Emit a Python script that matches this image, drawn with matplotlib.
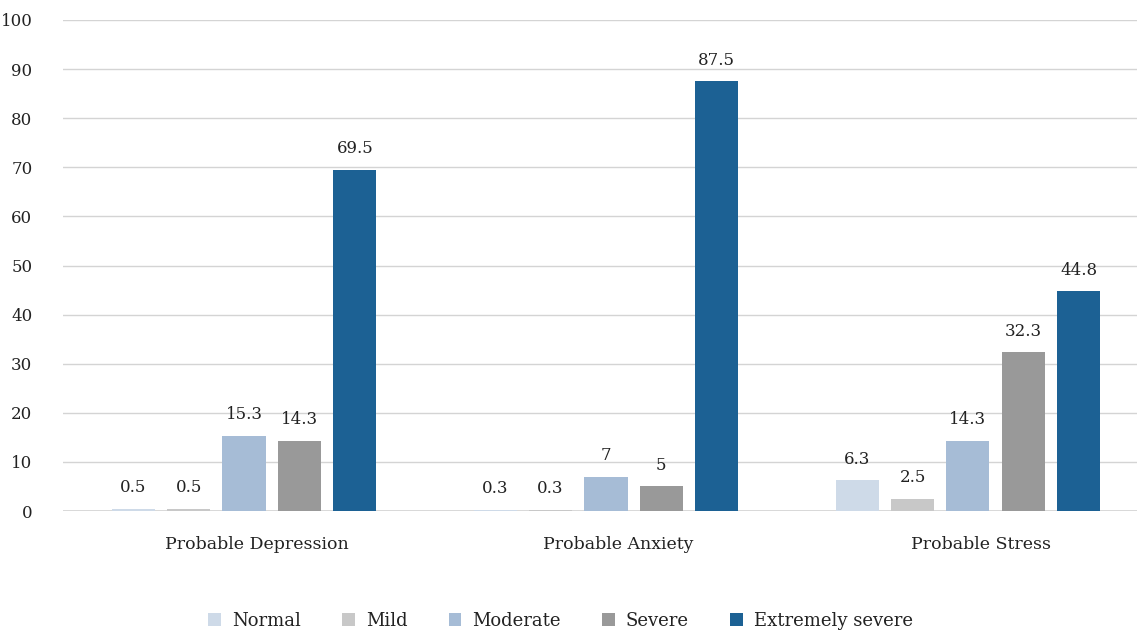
import numpy as np
import matplotlib
matplotlib.use("Agg")
import matplotlib.pyplot as plt

categories = ["Probable Depression", "Probable Anxiety", "Probable Stress"]
levels = ["Normal", "Mild", "Moderate", "Severe", "Extremely severe"]
normal = [0.5, 0.3, 6.3]
mild = [0.5, 0.3, 2.5]
moderate = [15.3, 7, 14.3]
severe = [14.3, 5, 32.3]
extreme = [69.5, 87.5, 44.8]
series = [normal, mild, moderate, severe, extreme]
labels = [["0.5", "0.3", "6.3"], ["0.5", "0.3", "2.5"], ["15.3", "7", "14.3"],
          ["14.3", "5", "32.3"], ["69.5", "87.5", "44.8"]]
colors = ["#cedae8", "#c8c8c8", "#a6bcd6", "#999999", "#1c6194"]

plt.rcParams["font.family"] = ["DejaVu Serif"]
fig = plt.figure(figsize=(11.37, 6.32), dpi=100)
ax = fig.add_axes([63 / 1137, 121 / 632, 1 - 63 / 1137, 491 / 632])

x = np.arange(len(categories))
width = 0.119
step = 0.153
for i, (vals, c, name) in enumerate(zip(series, colors, levels)):
    pos = x + (i - 2) * step
    bars = ax.bar(pos, vals, width, color=c, label=name, zorder=3)
    for b, lab in zip(bars, labels[i]):
        ax.annotate(lab, (b.get_x() + b.get_width() / 2, b.get_height()),
                    xytext=(0, 9), textcoords="offset points",
                    ha="center", va="bottom", fontsize=12, color="#222222")

ax.set_xlim(-0.5, 2.467)
ax.set_ylim(0, 100)
ax.set_yticks(range(0, 101, 10))
ax.set_xticks(x + 0.035)
ax.set_xticklabels(categories, fontsize=12.5, color="#222222")
ax.tick_params(axis="y", labelsize=12, colors="#222222", length=0, pad=22)
ax.tick_params(axis="x", length=0, pad=18)
ax.grid(axis="y", color="#d4d4d4", linewidth=1, zorder=0)
for s in ax.spines.values():
    s.set_visible(False)
ax.axhline(0, color="#d4d4d4", linewidth=1.2, zorder=2)

fig.legend(loc="center", bbox_to_anchor=(0.493, 11 / 632), ncol=5, frameon=False,
           fontsize=13, handlelength=0.7, handleheight=0.7, handletextpad=0.6,
           columnspacing=2.3, labelcolor="#222222")

fig.savefig("out.png", dpi=100)
